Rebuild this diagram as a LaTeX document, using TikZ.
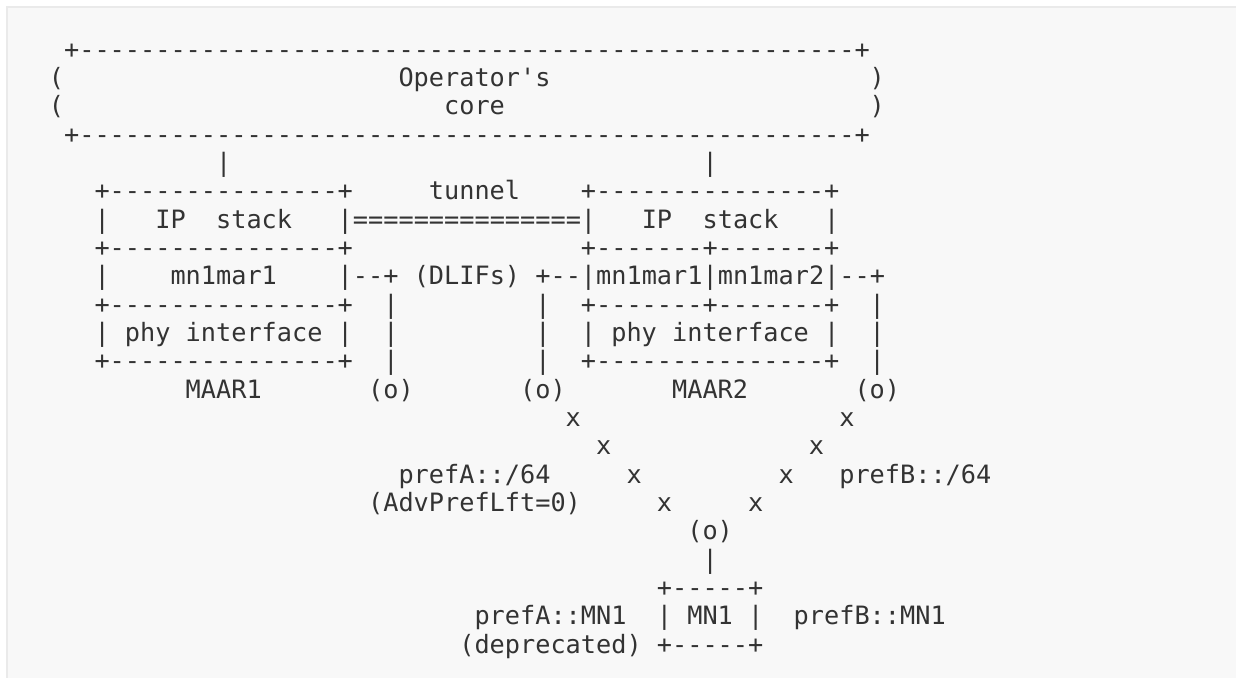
\documentclass[tikz,border=0pt]{standalone}
\usepackage{fontspec}
\setmonofont{DejaVu Sans Mono}
\definecolor{bgfill}{HTML}{F8F8F8}
\definecolor{bgline}{HTML}{EAEAEA}
\definecolor{ink}{HTML}{333333}
\ExplSyntaxOn
\cs_new:Npn \Rep #1#2 { \prg_replicate:nn {#1} {#2} }
\ExplSyntaxOff
\tikzset{asc/.style={anchor=base west, inner sep=0pt, outer sep=0pt, text=ink,
  font=\ttfamily\fontsize{18.94pt}{22pt}\selectfont}}
\newcommand\T[4]{\node[asc] (#1) at ({48.9+15.2*#2},{58.3+28.33*(#3-1)}) {#4};}
\begin{document}
\begin{tikzpicture}[x=0.75pt,y=-0.75pt]
\useasboundingbox (0,0) rectangle (1236,678);
\fill[white] (0,0) rectangle (1236,678);
\fill[bgfill] (6.5,6.5) rectangle (1236,678);
\draw[bgline, line width=1.5pt] (6.5,678) -- (6.5,6.5) -- (1236,6.5);
% operator's core
\T{r1}{1}{1}{+\Rep{51}{-}+}
\T{r2a}{0}{2}{(} \T{r2b}{23}{2}{Operator's} \T{r2c}{54}{2}{)}
\T{r3a}{0}{3}{(} \T{r3b}{26}{3}{core} \T{r3c}{54}{3}{)}
\T{r4}{1}{4}{+\Rep{51}{-}+}
\T{r5a}{11}{5}{|} \T{r5b}{43}{5}{|}
% MAARs
\T{r6a}{3}{6}{+\Rep{15}{-}+} \T{r6b}{25}{6}{tunnel} \T{r6c}{35}{6}{+\Rep{15}{-}+}
\T{r7}{3}{7}{|~~~IP~~stack~~~|\Rep{15}{=}|~~~IP~~stack~~~|}
\T{r8a}{3}{8}{+\Rep{15}{-}+} \T{r8b}{35}{8}{+\Rep{7}{-}+\Rep{7}{-}+}
\T{r9}{3}{9}{|~~~~mn1mar1~~~~|--+~(DLIFs)~+--|mn1mar1|mn1mar2|--+}
\T{r10a}{3}{10}{+\Rep{15}{-}+} \T{r10b}{22}{10}{|} \T{r10c}{32}{10}{|}
\T{r10d}{35}{10}{+\Rep{7}{-}+\Rep{7}{-}+} \T{r10e}{54}{10}{|}
\T{r11a}{3}{11}{|~phy~interface~|} \T{r11b}{22}{11}{|} \T{r11c}{32}{11}{|}
\T{r11d}{35}{11}{|~phy~interface~|} \T{r11e}{54}{11}{|}
\T{r12a}{3}{12}{+\Rep{15}{-}+} \T{r12b}{22}{12}{|} \T{r12c}{32}{12}{|}
\T{r12d}{35}{12}{+\Rep{15}{-}+} \T{r12e}{54}{12}{|}
\T{r13a}{9}{13}{MAAR1} \T{r13b}{21}{13}{(o)} \T{r13c}{31}{13}{(o)}
\T{r13d}{41}{13}{MAAR2} \T{r13e}{53}{13}{(o)}
% radio links
\T{r14a}{34}{14}{x} \T{r14b}{52}{14}{x}
\T{r15a}{36}{15}{x} \T{r15b}{50}{15}{x}
\T{r16a}{23}{16}{prefA::/64} \T{r16b}{38}{16}{x} \T{r16c}{48}{16}{x} \T{r16d}{52}{16}{prefB::/64}
\T{r17a}{21}{17}{(AdvPrefLft=0)} \T{r17b}{40}{17}{x} \T{r17c}{46}{17}{x}
\T{r18}{42}{18}{(o)}
\T{r19}{43}{19}{|}
% MN1
\T{r20}{40}{20}{+\Rep{5}{-}+}
\T{r21a}{28}{21}{prefA::MN1} \T{r21b}{40}{21}{|~MN1~|} \T{r21c}{49}{21}{prefB::MN1}
\T{r22a}{27}{22}{(deprecated)} \T{r22b}{40}{22}{+\Rep{5}{-}+}
\end{tikzpicture}
\end{document}
